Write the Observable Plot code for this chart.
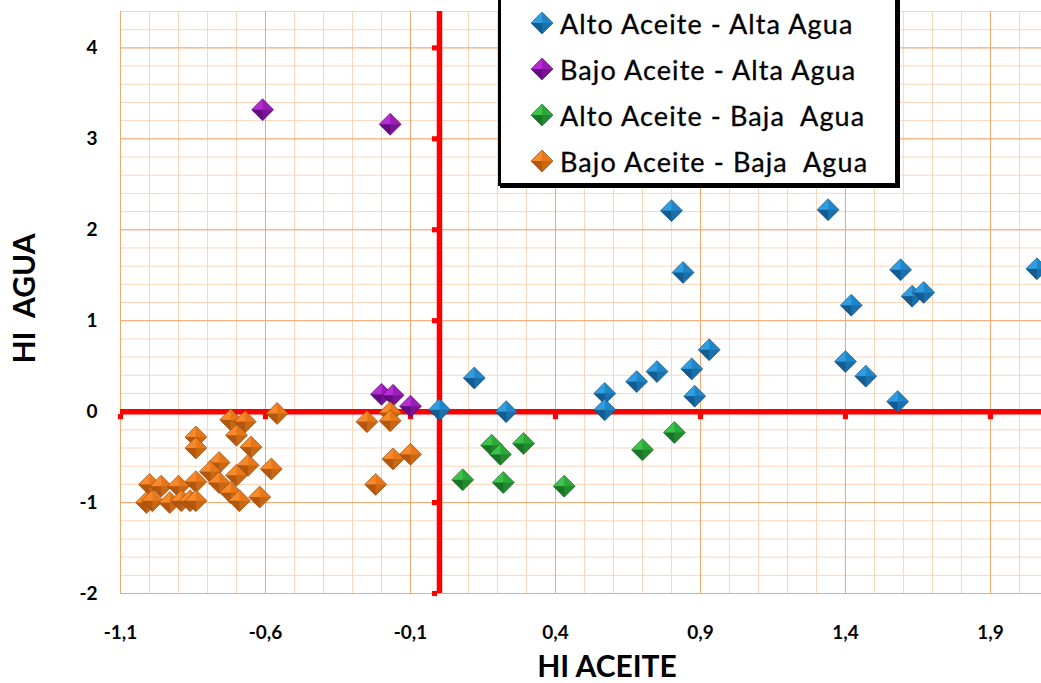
<!DOCTYPE html>
<html><head><meta charset="utf-8">
<script src="https://cdn.jsdelivr.net/npm/d3@7"></script>
<script src="https://cdn.jsdelivr.net/npm/@observablehq/plot@0.6"></script>
<style>
html,body{margin:0;padding:0;background:#fff;overflow:hidden}
#wrap{position:relative;width:1041px;height:683px}
#legend{position:absolute;left:498px;top:-10px;width:394px;height:190px;border:3px solid #000;box-shadow:2px 2px 0 #000;background:#fff;font-family:Lato,"Open Sans",sans-serif}
.row{position:absolute;left:0;height:40px;display:flex;align-items:center;font-size:27px;letter-spacing:1.1px;color:#000;white-space:pre;-webkit-text-stroke:0.3px #000}
.row svg{margin-left:29px;margin-right:6px}
</style></head>
<body><div id="wrap"><div id="chart"></div><div id="legend"></div></div>
<script>
// ---- data ----
const seriesNames = ["Alto Aceite - Alta Agua","Bajo Aceite - Alta Agua","Alto Aceite - Baja  Agua","Bajo Aceite - Baja  Agua"];
const altoAltaX = [0.00,0.12,0.23,0.57,0.57,0.68,0.75,0.80,0.84,0.87,0.88,0.93,1.34,1.42,1.40,1.47,1.58,1.59,1.63,1.67,2.06];
const altoAltaY = [0.02,0.37,0.00,0.20,0.02,0.33,0.44,2.21,1.53,0.47,0.17,0.68,2.22,1.17,0.55,0.39,0.11,1.56,1.27,1.31,1.57];
const bajoAltaX = [-0.61,-0.17,-0.20,-0.16,-0.10];
const bajoAltaY = [3.32,3.16,0.19,0.18,0.06];
const altoBajaX = [0.08,0.18,0.21,0.22,0.29,0.43,0.70,0.81];
const altoBajaY = [-0.75,-0.37,-0.47,-0.78,-0.35,-0.82,-0.42,-0.23];
const bajoBajaX = [-0.72,-0.67,-0.56,-0.70,-0.65,-0.84,-0.84,-0.58,-0.66,-0.76,-0.79,-0.70,-0.76,-0.84,-0.72,-1.00,-0.96,-0.90,-1.01,-0.99,-0.93,-0.89,-0.86,-0.84,-0.69,-0.62,-0.25,-0.17,-0.17,-0.16,-0.10,-0.22];
const bajoBajaY = [-0.09,-0.11,-0.02,-0.26,-0.39,-0.28,-0.40,-0.63,-0.59,-0.56,-0.66,-0.70,-0.78,-0.77,-0.89,-0.80,-0.82,-0.82,-1.00,-0.98,-1.00,-0.98,-0.98,-0.98,-0.98,-0.94,-0.11,-0.01,-0.10,-0.52,-0.47,-0.80];
const xTicks = [-1.1,-0.6,-0.1,0.4,0.9,1.4,1.9];
const yTicks = [-2,-1,0,1,2,3,4];
// facet colours: TL, TR, BL, BR, edge
const palettes = {
  blue:   ["#2f9de0","#1f87c9","#135c92","#1a70aa","#0f4a75"],
  purple: ["#b52cd4","#9b1db9","#650a80","#7c1397","#4d0763"],
  green:  ["#3ec24b","#2aa83a","#187526","#21892e","#0f5a1a"],
  orange: ["#f68a2a","#e9771a","#b4560e","#c96812","#8a3f06"]
};
const keys = ["blue","purple","green","orange"];

const toRows = (xs, ys) => xs.map((x, i) => ({x, y: ys[i]}));
const series = [toRows(altoAltaX, altoAltaY), toRows(bajoAltaX, bajoAltaY), toRows(altoBajaX, altoBajaY), toRows(bajoBajaX, bajoBajaY)];

const xMinor = d3.range(0, 32).map(i => Math.round((-1.1 + i * 0.1) * 10) / 10);
const yMinor = d3.range(0, 33).map(i => Math.round((-2 + i * 0.2) * 10) / 10);

const diamond = {draw(ctx, size) { const r = Math.sqrt(size / Math.PI); ctx.moveTo(0, -r); ctx.lineTo(r, 0); ctx.lineTo(0, r); ctx.lineTo(-r, 0); ctx.closePath(); }};
const fmtX = d => d.toFixed(1).replace(".", ",");

const chart = Plot.plot({
  width: 1041, height: 683,
  marginLeft: 120, marginRight: 0, marginTop: 11, marginBottom: 90,
  x: {domain: [-1.1, 2.076]},
  y: {domain: [-2, 4.4]},
  style: {fontFamily: "Lato, 'Open Sans', sans-serif", background: "#fff", color: "#000"},
  marks: [
    Plot.ruleX(xMinor, {stroke: "#fbd6bb", strokeWidth: 1}),
    Plot.ruleY(yMinor, {stroke: "#fbd6bb", strokeWidth: 1}),
    Plot.ruleX(xTicks, {stroke: "#f2a870", strokeWidth: 1}),
    Plot.ruleY(yTicks, {stroke: "#f2a870", strokeWidth: 1}),
    Plot.axisX(xTicks, {tickSize: 0, tickPadding: 32, tickFormat: fmtX, fontSize: 19, fontWeight: "bold", label: null}),
    Plot.axisY(yTicks, {tickSize: 0, tickPadding: 23, tickFormat: d => String(d), fontSize: 19, fontWeight: "bold", label: null}),
    Plot.ruleX([0], {stroke: "#ff0000", strokeWidth: 5.5}),
    Plot.ruleY([0], {stroke: "#ff0000", strokeWidth: 5.5}),
    Plot.dot(xTicks, {x: d => d, y: () => 0, symbol: "square", r: 2.9, fill: "#ff0000", dy: 5}),
    Plot.dot(yTicks, {x: () => 0, y: d => d, symbol: "square", r: 2.9, fill: "#ff0000", dx: -5}),
    ...series.map((rows, i) => Plot.dot(rows, {x: "x", y: "y", symbol: diamond, r: 11, fill: `url(#pat-${keys[i]})`, stroke: palettes[keys[i]][4], strokeWidth: 0.6})),
    Plot.text(["HI ACEITE"], {text: d => d, frameAnchor: "bottom", textAnchor: "middle", lineAnchor: "middle", dx: 26, dy: 74, fontSize: 30, fontWeight: "bold"}),
    Plot.text(["HI\u00a0\u00a0AGUA"], {text: d => d, frameAnchor: "left", textAnchor: "middle", lineAnchor: "middle", rotate: -90, dx: -95, dy: -4, fontSize: 30, fontWeight: "bold"})
  ]
});

function addPatterns(svgSel) {
  const defs = svgSel.insert("defs", ":first-child");
  for (const k of keys) {
    const p = palettes[k];
    const pat = defs.append("pattern").attr("id", `pat-${k}`).attr("patternUnits", "objectBoundingBox")
      .attr("patternContentUnits", "objectBoundingBox").attr("width", 1).attr("height", 1);
    [[0,0,p[0]],[0.5,0,p[1]],[0,0.5,p[2]],[0.5,0.5,p[3]]].forEach(([x,y,c]) =>
      pat.append("rect").attr("x", x).attr("y", y).attr("width", 0.5).attr("height", 0.5).attr("fill", c));
  }
}
addPatterns(d3.select(chart));
document.getElementById("chart").appendChild(chart);

// legend
const legend = d3.select("#legend");
const rowCenters = [33, 79, 125, 171];
seriesNames.forEach((name, i) => {
  const row = legend.append("div").attr("class", "row").style("top", (rowCenters[i] - 20 - 3) + "px");
  const s = row.append("svg").attr("width", 24).attr("height", 24);
  addPatterns(s);
  s.append("path").attr("d", "M12,1L23,12L12,23L1,12Z").attr("fill", `url(#pat-${keys[i]})`).attr("stroke", palettes[keys[i]][4]).attr("stroke-width", 0.6);
  row.append("span").text(name);
});
</script></body></html>
